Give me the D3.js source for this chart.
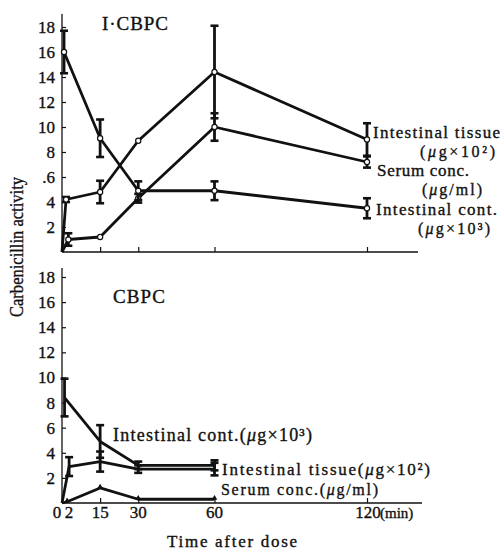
<!DOCTYPE html>
<html>
<head>
<meta charset="utf-8">
<script src="https://cdn.jsdelivr.net/npm/d3@7"></script>
<style>
body { margin: 0; background: #fff; }
svg text { font-family: "Liberation Serif", "Times New Roman", serif; fill: #111; stroke: #111; stroke-width: 0.35px; }
</style>
</head>
<body>
<svg id="chart" width="502" height="550" font-family="Liberation Serif, serif"></svg>
<script>
// values, y in "activity" units
var yTicks = [2, 4, 6, 8, 10, 12, 14, 16, 18];
var topYTickLabels = ['2', '4', '.6', '8', '10', '12', '14', '16', '18'];
var botYTickLabels = ['2', '4', '6', '8', '10', '12', '14', '16', '18'];
var xTickMarks = [15, 30, 60, 120];
var xTickLabels = [0, 2, 15, 30, 60];

// I-CBPC (top)
var topContTime = [0.8, 15, 30, 60, 120];
var topContValue = [16.0, 9.1, 4.9, 4.9, 3.5];
var topContErr = [1.7, 1.5, 0.75, 0.75, 0.8];

var topTissueTime = [0, 1.6, 15, 30, 60, 120];
var topTissueValue = [0, 4.2, 4.8, 8.9, 14.4, 9.0];
var topTissueErr = [0, 0.2, 0.9, 0, 3.7, 1.3];

var topSerumTime = [0, 2.5, 15, 30, 60, 120];
var topSerumValue = [0, 1.0, 1.2, 4.3, 10.0, 7.2];
var topSerumErr = [0, 0.5, 0, 0.35, 1.1, 0.45];

// CBPC (bottom)
var botContTime = [1, 15, 30, 60];
var botContValue = [8.4, 4.9, 3.0, 3.0];
var botContErr = [1.5, 1.3, 0.3, 0.4];

var botTissueTime = [0, 2.8, 15, 30, 60];
var botTissueValue = [0, 2.9, 3.3, 2.7, 2.7];
var botTissueErr = [0, 0.75, 0.8, 0.3, 0.5];

var botSerumTime = [0, 2, 15, 30, 60];
var botSerumValue = [0, 0.1, 1.2, 0.3, 0.3];

var svg = d3.select('#chart');
var ink = '#111';
var serif = '"Liberation Serif", "Times New Roman", serif';

var x = d3.scaleLinear().domain([0, 120]).range([62, 367]);
var yTop = d3.scaleLinear().domain([0, 18]).range([252, 27]);
var yBot = d3.scaleLinear().domain([0, 18]).range([503, 277]);

function zip(t, v, e) {
    return t.map(function(d, i) { return { t: d, v: v[i], e: e ? e[i] : 0 }; });
}

function drawAxes(y, axisTop, axisRight, labels) {
    svg.append('line')
        .attr('x1', x(0)).attr('x2', x(0))
        .attr('y1', axisTop).attr('y2', y(0))
        .attr('stroke', ink).attr('stroke-width', 1.3);
    svg.append('line')
        .attr('x1', x(0)).attr('x2', axisRight)
        .attr('y1', y(0)).attr('y2', y(0))
        .attr('stroke', ink).attr('stroke-width', 1.3);

    var ya = svg.append('g')
        .attr('transform', 'translate(' + x(0) + ',0)')
        .call(d3.axisLeft(y).tickValues(yTicks)
            .tickSizeInner(-4).tickSizeOuter(0).tickPadding(7)
            .tickFormat(function(d, i) { return labels[i]; }));
    ya.attr('font-family', serif);
    ya.select('.domain').remove();
    ya.selectAll('line').attr('stroke', ink).attr('stroke-width', 1.2);
    ya.selectAll('text').attr('font-size', 17).attr('fill', ink);

    var xa = svg.append('g')
        .attr('transform', 'translate(0,' + y(0) + ')')
        .call(d3.axisBottom(x).tickValues(xTickMarks)
            .tickSizeInner(-5).tickSizeOuter(0).tickFormat(''));
    xa.select('.domain').remove();
    xa.selectAll('line').attr('stroke', ink).attr('stroke-width', 1.2);
}

function drawSeries(y, data, marker) {
    var line = d3.line().x(function(d) { return x(d.t); }).y(function(d) { return y(d.v); });
    svg.append('path')
        .datum(data)
        .attr('d', line)
        .attr('fill', 'none')
        .attr('stroke', ink)
        .attr('stroke-width', 2.8)
        .attr('stroke-linejoin', 'round');

    var bars = svg.append('g').selectAll('g')
        .data(data.filter(function(d) { return d.e > 0; }))
        .enter().append('g');
    bars.append('line')
        .attr('x1', function(d) { return x(d.t); })
        .attr('x2', function(d) { return x(d.t); })
        .attr('y1', function(d) { return y(d.v + d.e); })
        .attr('y2', function(d) { return y(d.v - d.e); })
        .attr('stroke', ink).attr('stroke-width', 2.8);
    [1, -1].forEach(function(s) {
        bars.append('line')
            .attr('x1', function(d) { return x(d.t) - 4; })
            .attr('x2', function(d) { return x(d.t) + 4; })
            .attr('y1', function(d) { return y(d.v + s * d.e); })
            .attr('y2', function(d) { return y(d.v + s * d.e); })
            .attr('stroke', ink).attr('stroke-width', 2.6);
    });

    var pts = data.filter(function(d) { return d.t > 0; });
    if (marker == 'open') {
        svg.append('g').selectAll('circle')
            .data(pts)
            .enter().append('circle')
            .attr('cx', function(d) { return x(d.t); })
            .attr('cy', function(d) { return y(d.v); })
            .attr('r', 2.6)
            .attr('fill', '#fff')
            .attr('stroke', ink)
            .attr('stroke-width', 1.2);
    }
    if (marker == 'tri') {
        svg.append('g').selectAll('path')
            .data(pts)
            .enter().append('path')
            .attr('d', d3.symbol().type(d3.symbolTriangle).size(14))
            .attr('transform', function(d) { return 'translate(' + x(d.t) + ',' + (y(d.v) - 1) + ')'; })
            .attr('fill', ink);
    }
}

// label helper: italic mu, stretched to the width measured on the scan
function label(txt, lx, ly, size, width, anchor) {
    var t = svg.append('text')
        .attr('x', lx).attr('y', ly)
        .attr('font-family', serif)
        .attr('font-size', size)
        .attr('text-anchor', anchor || 'start');
    var parts = txt.split('μ');
    parts.forEach(function(p, i) {
        if (i > 0) t.append('tspan').attr('font-style', 'italic').text('μ');
        if (p.length) t.append('tspan').text(p);
    });
    if (width) t.attr('textLength', width);
    return t;
}

// ---- top panel: I-CBPC
drawAxes(yTop, 14, 418, topYTickLabels);
drawSeries(yTop, zip(topTissueTime, topTissueValue, topTissueErr), 'open');
drawSeries(yTop, zip(topSerumTime, topSerumValue, topSerumErr), 'open');
drawSeries(yTop, zip(topContTime, topContValue, topContErr), 'open');

label('I·CBPC', 102, 30, 19, 66);
label('Intestinal tissue', 373, 138, 17, 127);
label('(μg×10²)', 420, 157, 16, 75);
label('Serum conc.', 377, 176, 17, 92);
label('(μg/ml)', 422, 195, 16, 60);
label('Intestinal cont.', 376, 215, 17, 121);
label('(μg×10³)', 418, 234, 16, 72);

// ---- bottom panel: CBPC
drawAxes(yBot, 268, 422, botYTickLabels);
drawSeries(yBot, zip(botTissueTime, botTissueValue, botTissueErr), 'none');
drawSeries(yBot, zip(botContTime, botContValue, botContErr), 'none');
drawSeries(yBot, zip(botSerumTime, botSerumValue, null), 'tri');

label('CBPC', 113, 303, 19, 52);
label('Intestinal cont.(μg×10³)', 113, 441, 18, 199);
label('Intestinal tissue(μg×10²)', 222, 475, 17, 208);
label('Serum conc.(μg/ml)', 221, 495, 16, 157);

// x tick labels under the bottom axis
svg.append('g').selectAll('text')
    .data(xTickLabels)
    .enter().append('text')
    .attr('x', function(d) { return x(d) + (d == 0 ? -5 : d == 2 ? 2 : 0); })
    .attr('y', 518)
    .attr('font-family', serif)
    .attr('font-size', 17)
    .attr('text-anchor', 'middle')
    .text(function(d) { return d; });
svg.append('text').attr('x', x(120) + 1).attr('y', 518)
    .attr('font-family', serif).attr('font-size', 17)
    .attr('text-anchor', 'middle').text('120');
svg.append('text').attr('x', x(120) + 13).attr('y', 518)
    .attr('font-family', serif).attr('font-size', 15).text('(min)');

label('Time after dose', 232, 547, 17, 130, 'middle');

svg.append('text')
    .attr('transform', 'translate(23,247) rotate(-90)')
    .attr('text-anchor', 'middle')
    .attr('font-family', serif)
    .attr('font-size', 18)
    .attr('textLength', 140)
    .attr('lengthAdjust', 'spacingAndGlyphs')
    .text('Carbenicillin activity');
</script>
</body>
</html>
